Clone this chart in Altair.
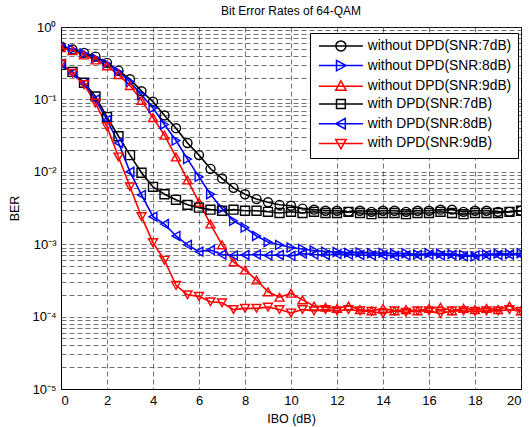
import altair as alt
import pandas as pd

FONT = "Liberation Sans"

ibo = [i * 0.5 for i in range(41)]

series_names = [
    "without DPD(SNR:7dB)",
    "without DPD(SNR:8dB)",
    "without DPD(SNR:9dB)",
    "with DPD(SNR:7dB)",
    "with DPD(SNR:8dB)",
    "with DPD(SNR:9dB)",
]
series_colors = ["#000000", "#0000ff", "#ff0000", "#000000", "#0000ff", "#ff0000"]
series_shapes = ["circle", "triangle-right", "triangle-up", "square", "triangle-left", "triangle-down"]

wo_snr7 = [0.54, 0.49, 0.44, 0.39, 0.32, 0.25, 0.19, 0.13, 0.093, 0.06,
           0.04, 0.025, 0.017, 0.011, 0.0081, 0.006, 0.0049, 0.0042, 0.0038, 0.0035,
           0.0034, 0.0031, 0.0030, 0.0029, 0.0029, 0.0028, 0.0029, 0.0028, 0.0029, 0.0029,
           0.0028, 0.0029, 0.0029, 0.0030, 0.0030, 0.0028, 0.0029, 0.0029, 0.0028, 0.0028,
           0.0029]
wo_snr8 = [0.56, 0.49, 0.43, 0.37, 0.31, 0.24, 0.175, 0.115, 0.076, 0.045,
           0.027, 0.015, 0.0085, 0.0049, 0.0031, 0.0021, 0.0017, 0.0013, 0.00107, 0.00098,
           0.0009, 0.00086, 0.00082, 0.00079, 0.00078, 0.00076, 0.00077, 0.00075, 0.00076, 0.00074,
           0.00075, 0.00072, 0.00075, 0.00074, 0.00073, 0.00071, 0.00068, 0.00072, 0.00074, 0.00073,
           0.00075]
wo_snr9 = [0.52, 0.47, 0.41, 0.35, 0.29, 0.22, 0.155, 0.097, 0.056, 0.032,
           0.016, 0.0077, 0.0038, 0.0019, 0.00098, 0.00057, 0.00044, 0.00032, 0.00022, 0.000185,
           0.00021, 0.00017, 0.00014, 0.000135, 0.00013, 0.00014, 0.000125, 0.00012, 0.00013, 0.00012,
           0.000125, 0.00012, 0.00013, 0.000135, 0.00012, 0.00013, 0.000125, 0.00013, 0.000125, 0.00014,
           0.00012]
w_snr7 = [0.30, 0.24, 0.17, 0.11, 0.057, 0.031, 0.017, 0.0097, 0.0062, 0.0049,
          0.0041, 0.0035, 0.0032, 0.0030, 0.0029, 0.0030, 0.0029, 0.0029, 0.0028, 0.0027,
          0.0028, 0.0027, 0.0028, 0.0027, 0.0027, 0.0028, 0.0027, 0.0026, 0.0027, 0.0027,
          0.0026, 0.0027, 0.0027, 0.0028, 0.0027, 0.0026, 0.0027, 0.0027, 0.0027, 0.0028,
          0.0029]
w_snr8 = [0.31, 0.23, 0.165, 0.10, 0.052, 0.025, 0.010, 0.0048, 0.0024, 0.0019,
          0.0013, 0.00098, 0.00079, 0.00083, 0.00072, 0.00070, 0.00071, 0.00072, 0.00070, 0.00071,
          0.00069, 0.00074, 0.00072, 0.00071, 0.00073, 0.00072, 0.00071, 0.00070, 0.00071, 0.00069,
          0.00070, 0.00071, 0.00072, 0.00070, 0.00071, 0.00068, 0.00070, 0.00071, 0.00071, 0.00072,
          0.00071]
w_snr9 = [0.31, 0.23, 0.16, 0.089, 0.042, 0.016, 0.0062, 0.0024, 0.00105, 0.0006,
          0.00027, 0.0002, 0.00019, 0.00016, 0.000155, 0.000125, 0.00013, 0.00013, 0.000135, 0.000125,
          0.000112, 0.000125, 0.00012, 0.000125, 0.00012, 0.000125, 0.00012, 0.000118, 0.00011, 0.00012,
          0.000115, 0.00012, 0.00012, 0.00011, 0.00012, 0.00012, 0.000118, 0.00012, 0.00012, 0.000125,
          0.000118]

all_series = [wo_snr7, wo_snr8, wo_snr9, w_snr7, w_snr8, w_snr9]

rows = []
for k, (name, vals) in enumerate(zip(series_names, all_series)):
    for x, v in zip(ibo, vals):
        rows.append({"series": name, "order": k, "IBO": x, "BER": v})
df = pd.DataFrame(rows)

# legend symbols: a line segment with the marker drawn on it
legend_paths = [
    "M-5.5,0H5.5M1.25,0A1.25,1.25,0,1,1,-1.25,0A1.25,1.25,0,1,1,1.25,0Z",
    "M-5.5,0H5.5M-1.1,-1.3L1.3,0L-1.1,1.3Z",
    "M-5.5,0H5.5M0,-1.35L1.3,1L-1.3,1Z",
    "M-5.5,0H5.5M-1.1,-1.1H1.1V1.1H-1.1Z",
    "M-5.5,0H5.5M1.1,-1.3L-1.3,0L1.1,1.3Z",
    "M-5.5,0H5.5M0,1.35L1.3,-1L-1.3,-1Z",
]

y_grid_values = []
for e in range(-5, 0):
    for m in range(1, 10):
        y_grid_values.append(m * 10.0 ** e)
y_grid_values.append(1.0)

label_expr = (
    "abs(log(datum.value)/LN10 - round(log(datum.value)/LN10)) > 0.001 ? '' : "
    "round(log(datum.value)/LN10) == 0 ? '10⁰' : "
    "round(log(datum.value)/LN10) == -1 ? '10⁻¹' : "
    "round(log(datum.value)/LN10) == -2 ? '10⁻²' : "
    "round(log(datum.value)/LN10) == -3 ? '10⁻³' : "
    "round(log(datum.value)/LN10) == -4 ? '10⁻⁴' : '10⁻⁵'"
)

x_enc = alt.X(
    "IBO:Q",
    scale=alt.Scale(domain=[0, 20], nice=False, zero=False),
    axis=alt.Axis(
        values=list(range(0, 21, 2)),
        title="IBO (dB)",
        format="d",
        tickSize=0,
        labelPadding=5,
        titlePadding=5,
    ),
)
y_enc = alt.Y(
    "BER:Q",
    scale=alt.Scale(type="log", domain=[1e-5, 1], nice=False),
    axis=alt.Axis(
        values=y_grid_values,
        labelExpr=label_expr,
        title="BER",
        tickSize=0,
        labelPadding=5,
        titlePadding=10,
    ),
)

color_scale = alt.Scale(domain=series_names, range=series_colors)

base = alt.Chart(df)

lines = base.mark_line(strokeWidth=1.6, clip=True).encode(
    x=x_enc,
    y=y_enc,
    color=alt.Color("series:N", scale=color_scale, legend=None),
    detail="series:N",
    order="IBO:Q",
)

points = base.mark_point(filled=False, size=80, strokeWidth=1.4, opacity=1, clip=True).encode(
    x=x_enc,
    y=y_enc,
    color=alt.Color("series:N", scale=color_scale, legend=None),
    shape=alt.Shape("series:N", scale=alt.Scale(domain=series_names, range=series_shapes), legend=None),
)

legend_layer = base.mark_point(filled=False, opacity=0, clip=True).encode(
    x=x_enc,
    y=y_enc,
    color=alt.Color(
        "series:N",
        scale=color_scale,
        legend=alt.Legend(
            title=None,
            orient="none",
            legendX=249,
            legendY=6,
            fillColor="white",
            strokeColor="black",
            padding=6,
            symbolSize=64,
            symbolStrokeWidth=1.5,
            symbolOffset=18,
            labelOffset=20,
            labelFontSize=13.8,
            labelFont=FONT,
            labelColor="black",
            rowPadding=2.7,
            symbolOpacity=1,
            symbolFillColor="transparent",
        ),
    ),
    shape=alt.Shape(
        "series:N",
        scale=alt.Scale(domain=series_names, range=legend_paths),
        legend=alt.Legend(
            title=None,
            orient="none",
            legendX=249,
            legendY=6,
        ),
    ),
)

chart = (
    alt.layer(lines, points, legend_layer)
    .resolve_scale(color="independent", shape="independent")
    .properties(
        width=460,
        height=362,
        background="white",
        autosize=alt.AutoSizeParams(type="none"),
        padding={"left": 61, "top": 27, "right": 10, "bottom": 38},
        title=alt.Title("Bit Error Rates of 64-QAM", fontSize=12, fontWeight="normal",
                        font=FONT, color="black", offset=3),
    )
    .configure_view(stroke="black", strokeWidth=1)
    .configure_axis(
        labelFont=FONT,
        titleFont=FONT,
        labelFontSize=13,
        titleFontSize=12.5,
        titleFontWeight="normal",
        labelColor="black",
        titleColor="black",
        domainColor="black",
        domainWidth=1,
        grid=True,
        gridColor="#333333",
        gridDash=[5, 3],
        gridWidth=0.8,
        gridOpacity=0.85,
    )
)

chart.save("out.html", embed_options={"renderer": "svg", "actions": False})
